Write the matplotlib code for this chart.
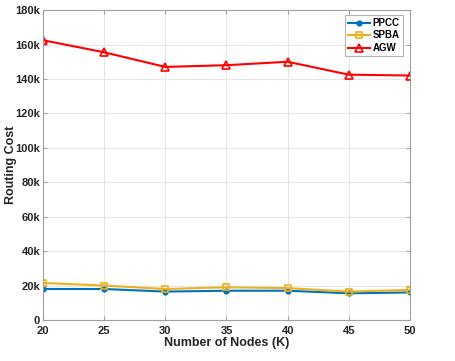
import matplotlib
matplotlib.use("Agg")
import matplotlib.pyplot as plt
from matplotlib.ticker import FuncFormatter

nodes = [20, 25, 30, 35, 40, 45, 50]
ppcc = [18000, 18000, 16500, 17000, 17000, 15500, 16000]
spba = [21500, 20000, 18000, 19000, 18500, 16500, 17500]
agw = [162500, 155500, 147000, 148000, 150000, 142500, 142000]
yticks = [0, 20000, 40000, 60000, 80000, 100000, 120000, 140000, 160000, 180000]

plt.rcParams['font.family'] = ['Liberation Sans', 'DejaVu Sans']
plt.rcParams['font.weight'] = 'bold'

fig = plt.figure(figsize=(4.55, 3.61), dpi=100)
ax = fig.add_axes([0.0945, 0.1136, 0.8065, 0.8584])

ax.plot(nodes, ppcc, color='#0072BD', marker='o', markersize=3.5, linewidth=1.5, label='PPCC')
ax.plot(nodes, spba, color='#EDB120', marker='s', markersize=4.5, markerfacecolor='none',
        markeredgewidth=1.2, linewidth=1.5, label='SPBA')
ax.plot(nodes, agw, color='#FF0000', marker='^', markersize=5.5, markerfacecolor='none',
        markeredgewidth=1.2, linewidth=1.5, label='AGW')

ax.set_xlim(20, 50)
ax.set_ylim(0, 180000)
ax.set_xticks(nodes)
ax.set_yticks(yticks)
ax.yaxis.set_major_formatter(FuncFormatter(lambda v, p: '0' if v == 0 else f'{int(v/1000)}k'))
ax.grid(True, color='#e6e6e6', linewidth=0.7)
ax.set_axisbelow(True)
for s in ax.spines.values():
    s.set_color('#a0a0a0')
    s.set_linewidth(0.8)
ax.tick_params(direction='in', length=3, color='#a0a0a0', labelsize=8, labelcolor='#262626',
               top=True, right=True)
ax.tick_params(axis='y', pad=2)
ax.tick_params(axis='x', pad=4)
for lbl in ax.get_xticklabels() + ax.get_yticklabels():
    lbl.set_fontweight('bold')

ax.set_xlabel('Number of Nodes (K)', fontsize=9, fontweight='bold', color='#262626', labelpad=1)
ax.set_ylabel('Routing Cost', fontsize=9, fontweight='bold', color='#262626')
ax.yaxis.set_label_coords(-0.072, 0.5)

leg = ax.legend(loc='upper right', bbox_to_anchor=(0.985, 0.99), fontsize=7, frameon=True,
                fancybox=False, edgecolor='#a0a0a0', handlelength=2.2, borderpad=0.3,
                labelspacing=0.25, handletextpad=0.3, borderaxespad=0.2)
for t in leg.get_texts():
    t.set_fontweight('bold')
leg.get_frame().set_linewidth(0.8)

fig.savefig('out.png', dpi=100)
